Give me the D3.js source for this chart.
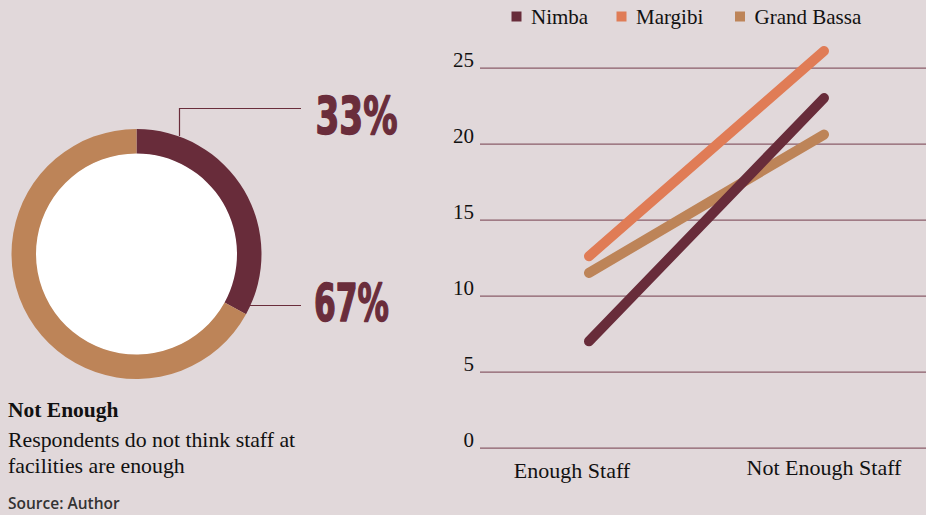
<!DOCTYPE html>
<html>
<head>
<meta charset="utf-8">
<script src="https://cdn.jsdelivr.net/npm/d3@7"></script>
<style>
  body { margin: 0; background: #e1d8da; }
  svg { display: block; }
</style>
</head>
<body>
<svg width="926" height="515"></svg>
<script>
var svg = d3.select("svg"),
  width = +svg.attr("width"),
  height = +svg.attr("height");

// donut data
var shareLabels = ["Not Enough", "Enough"];
var shareValues = [33, 67];
var shareColors = ["#682c3a", "#bd8458"];

// line chart data
var categories = ["Enough Staff", "Not Enough Staff"];
var seriesNames = ["Nimba", "Margibi", "Grand Bassa"];
var nimba = [7, 23];
var margibi = [12.6, 26.1];
var grandBassa = [11.5, 20.6];
var yTicks = [0, 5, 10, 15, 20, 25];
var seriesColors = ["#682c3a", "#e07c56", "#bd8458"];

var maroon = "#6a2d3b";

svg.append("rect").attr("width", width).attr("height", height).attr("fill", "#e1d8da");

// ---- donut ----
var donut = svg.append("g").attr("transform", "translate(136.5,254)");
var pie = d3.pie().sort(null).value(function(d) { return d; });
var arc = d3.arc().innerRadius(100.5).outerRadius(125);
var arcs = pie(shareValues);

donut.append("circle").attr("r", 101).attr("fill", "#fff");
donut.selectAll("path")
  .data(arcs)
  .enter().append("path")
  .attr("d", arc)
  .attr("fill", function(d, i) { return shareColors[i]; });

// leader lines
svg.append("path")
  .attr("d", "M179.5,136V108.5H301")
  .attr("fill", "none").attr("stroke", maroon).attr("stroke-width", 1.2);
svg.append("path")
  .attr("d", "M250,305.5H301")
  .attr("fill", "none").attr("stroke", maroon).attr("stroke-width", 1.2);

// big percentages: heavy font squeezed + stroked to look like a condensed display face
var pctStyle = function(t) {
  t.attr("font-family", "'DejaVu Sans', sans-serif")
    .attr("font-weight", "bold")
    .attr("font-size", 52)
    .attr("fill", maroon)
    .attr("stroke", maroon)
    .attr("stroke-width", 1.6)
    .attr("stroke-linejoin", "round")
    .attr("lengthAdjust", "spacingAndGlyphs");
};
svg.append("text").attr("x", 315.5).attr("y", 134)
  .attr("textLength", 82).call(pctStyle).text(shareValues[0] + "%");
svg.append("text").attr("x", 314).attr("y", 320.5)
  .attr("textLength", 75).call(pctStyle).text(shareValues[1] + "%");

var serif = "'Liberation Serif', 'Times New Roman', serif";
svg.append("text").attr("x", 8).attr("y", 417)
  .attr("font-family", serif).attr("font-weight", "bold").attr("font-size", 21.5)
  .attr("fill", "#111").text(shareLabels[0]);
svg.append("text").attr("x", 8).attr("y", 447)
  .attr("font-family", serif).attr("font-size", 21.8)
  .attr("fill", "#111").text("Respondents do not think staff at");
svg.append("text").attr("x", 8).attr("y", 473)
  .attr("font-family", serif).attr("font-size", 21.8)
  .attr("fill", "#111").text("facilities are enough");
svg.append("text").attr("x", 8).attr("y", 509)
  .attr("font-family", "'Open Sans', sans-serif").attr("font-weight", 600).attr("font-size", 15.5)
  .attr("fill", "#333").text("Source: Author");

// ---- line chart ----
var x = d3.scalePoint().domain(categories).range([589, 824]);
var y = d3.scaleLinear().domain([0, 25]).range([447.7, 67.7]);

var yAxis = svg.append("g")
  .attr("transform", "translate(480,0)")
  .call(d3.axisLeft(y).tickValues(yTicks).tickSize(-(width - 480)).tickPadding(6));
yAxis.select(".domain").remove();
yAxis.selectAll(".tick line").attr("stroke", "#8a5c69").attr("stroke-width", 1.2);
yAxis.selectAll(".tick text")
  .attr("font-family", serif).attr("font-size", 21).attr("fill", "#111").attr("dy", "-0.05em");

var catOffsets = [-17, 0];
var catBaselines = [478, 475];
svg.selectAll(".cat")
  .data(categories)
  .enter().append("text")
  .attr("class", "cat")
  .attr("x", function(d, i) { return x(d) + catOffsets[i]; })
  .attr("y", function(d, i) { return catBaselines[i]; })
  .attr("text-anchor", "middle")
  .attr("font-family", serif).attr("font-size", 22).attr("fill", "#111")
  .text(function(d) { return d; });

var series = [nimba, margibi, grandBassa];
var line = d3.line()
  .x(function(d, i) { return x(categories[i]); })
  .y(function(d) { return y(d); });

// draw Grand Bassa first so Nimba sits on top
svg.append("g").selectAll("path")
  .data(series.map(function(s, i) { return { values: s, color: seriesColors[i] }; }).reverse())
  .enter().append("path")
  .attr("d", function(d) { return line(d.values); })
  .attr("fill", "none")
  .attr("stroke", function(d) { return d.color; })
  .attr("stroke-width", 10)
  .attr("stroke-linecap", "round");

// legend
var legendX = [511.5, 616.5, 735];
var legend = svg.append("g").selectAll("g")
  .data(seriesNames)
  .enter().append("g")
  .attr("transform", function(d, i) { return "translate(" + legendX[i] + ",0)"; });
legend.append("rect")
  .attr("y", 11.5).attr("width", 10).attr("height", 10)
  .attr("fill", function(d, i) { return seriesColors[i]; });
legend.append("text")
  .attr("x", 19.5).attr("y", 24)
  .attr("font-family", serif).attr("font-size", 21).attr("fill", "#111")
  .text(function(d) { return d; });
</script>
</body>
</html>
